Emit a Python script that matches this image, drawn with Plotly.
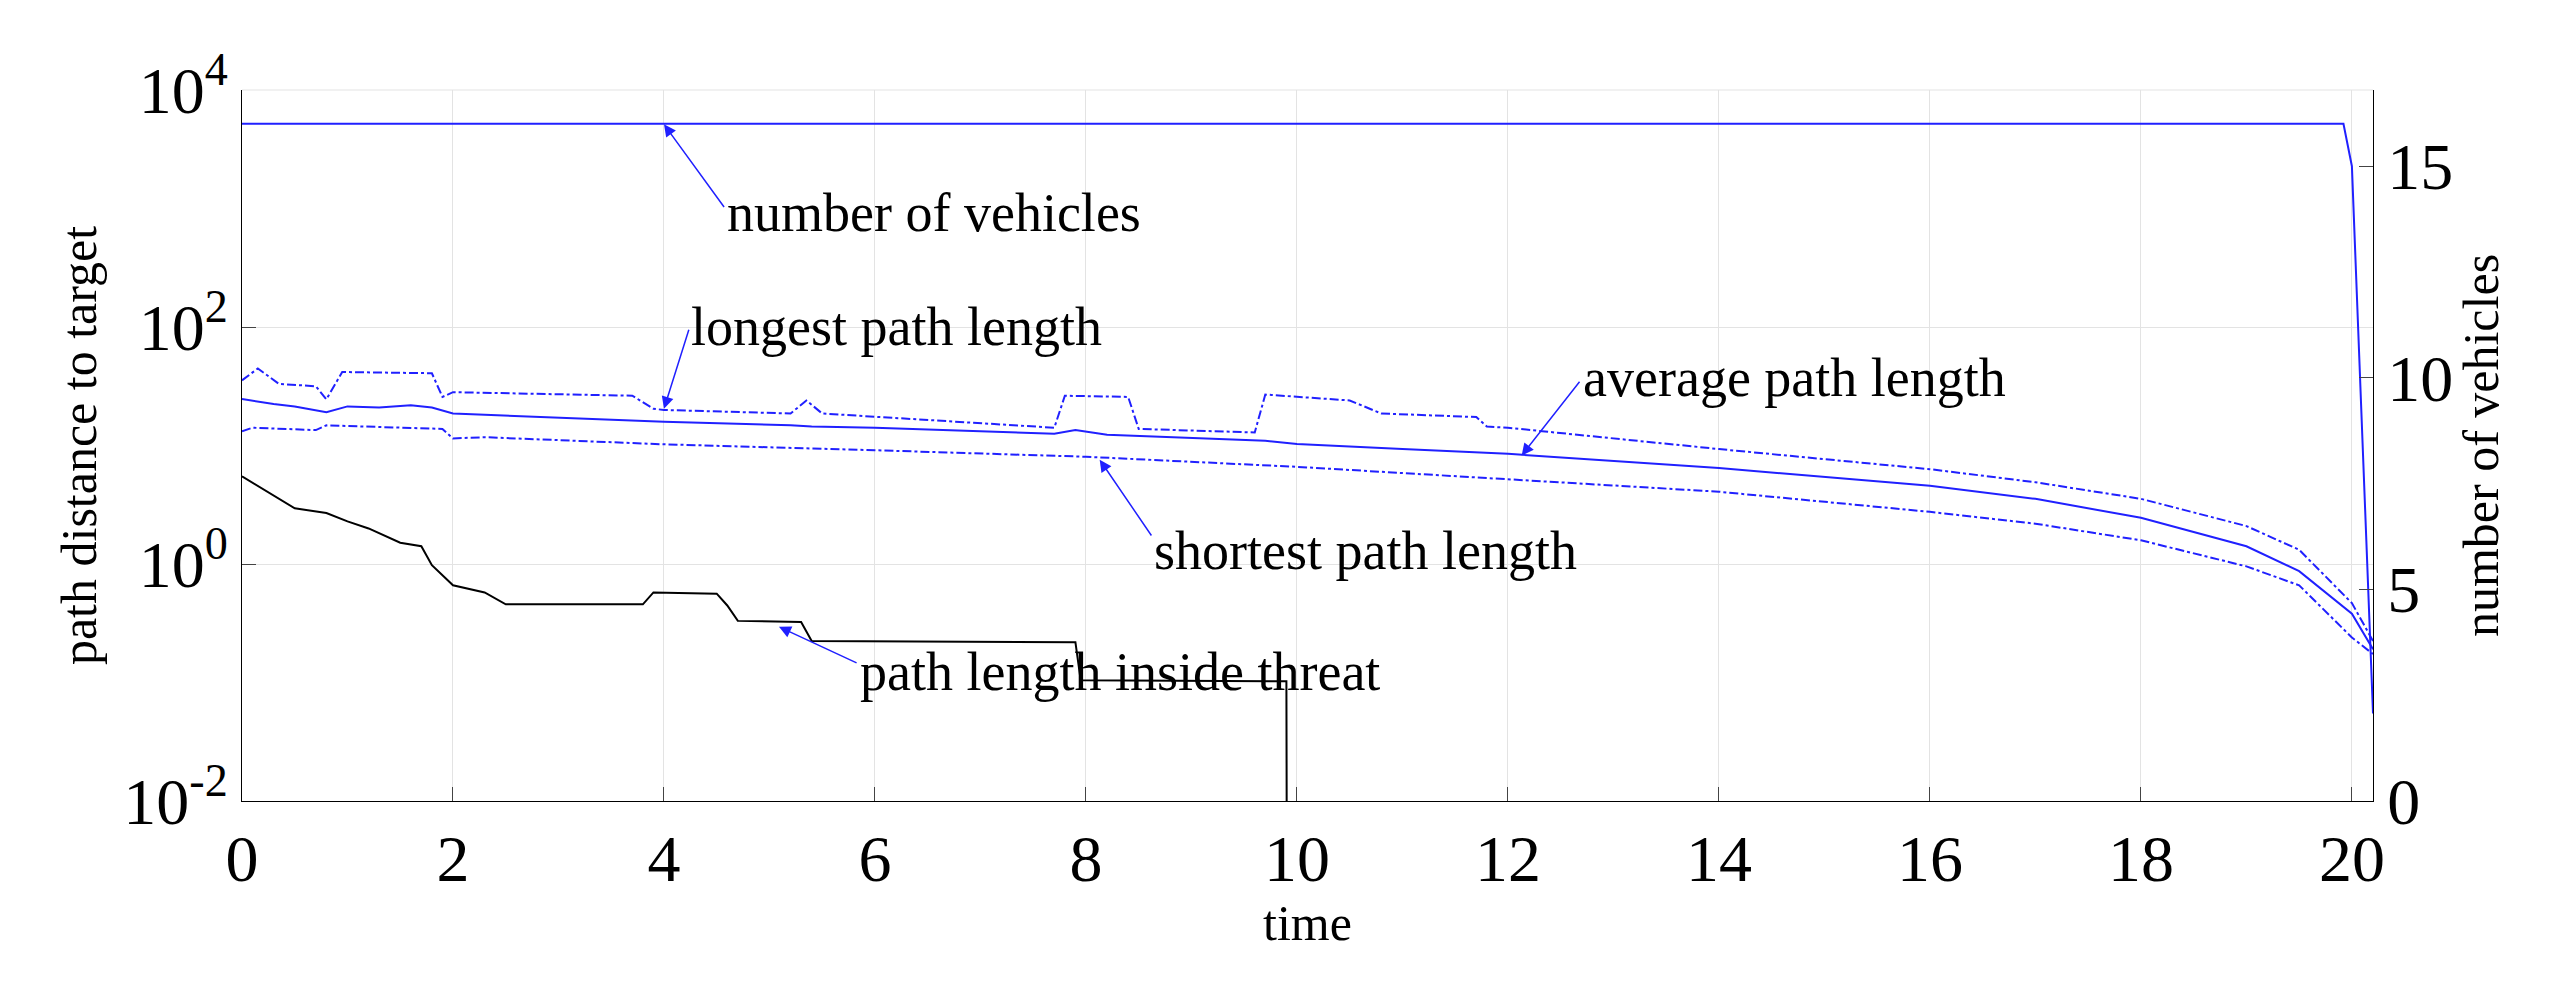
import plotly.graph_objects as go

t_avg = [0, 0.3, 0.5, 0.8, 1.0, 1.3, 1.6, 1.8, 2.0, 4.0, 5.2, 5.4, 6.0, 7.7, 7.9, 8.2, 9.7, 10.0, 11.0, 12.0, 14.0, 16.0, 17.0, 18.0, 19.0, 19.5, 20.0, 20.2]
log_avg = [1.392, 1.35, 1.33, 1.28, 1.33, 1.32, 1.34, 1.32, 1.27, 1.20, 1.17, 1.16, 1.15, 1.10, 1.13, 1.09, 1.04, 1.013, 0.97, 0.93, 0.81, 0.66, 0.55, 0.39, 0.15, -0.06, -0.42, -0.72]

t_long = [0, 0.15, 0.35, 0.7, 0.8, 0.95, 1.8, 1.9, 2.0, 3.7, 3.9, 4.0, 5.2, 5.35, 5.5, 7.7, 7.8, 8.4, 8.5, 9.6, 9.7, 10.0, 10.5, 10.8, 11.7, 11.8, 12.0, 14.0, 16.0, 17.0, 18.0, 19.0, 19.5, 20.0, 20.2]
log_long = [1.55, 1.65, 1.52, 1.50, 1.39, 1.62, 1.61, 1.41, 1.45, 1.42, 1.31, 1.30, 1.27, 1.38, 1.27, 1.15, 1.42, 1.41, 1.14, 1.11, 1.43, 1.41, 1.38, 1.27, 1.24, 1.16, 1.15, 0.97, 0.80, 0.69, 0.55, 0.32, 0.12, -0.33, -0.65]

t_short = [0, 0.1, 0.7, 0.8, 1.9, 2.0, 2.3, 4.0, 6.0, 8.0, 10.0, 12.0, 14.0, 16.0, 17.0, 18.0, 19.0, 19.5, 20.0, 20.2]
log_short = [1.12, 1.15, 1.13, 1.17, 1.14, 1.06, 1.07, 1.01, 0.96, 0.905, 0.82, 0.715, 0.61, 0.44, 0.34, 0.20, -0.02, -0.18, -0.62, -0.76]

t_threat = [0, 0.3, 0.5, 0.8, 1.0, 1.2, 1.5, 1.7, 1.8, 2.0, 2.3, 2.5, 3.8, 3.9, 4.5, 4.6, 4.7, 5.3, 5.4, 7.9, 7.95, 9.9, 9.91]
log_threat = [0.74, 0.58, 0.47, 0.43, 0.36, 0.30, 0.18, 0.15, -0.01, -0.18, -0.24, -0.34, -0.34, -0.24, -0.25, -0.35, -0.48, -0.49, -0.65, -0.66, -0.98, -0.99, -5]

t_veh = [0, 19.92, 20.0, 20.2]
n_veh = [16, 16, 15, 2.07]

blue = "#2020ff"
fig = go.Figure()
def tr(t, lg, dash, color, name):
    fig.add_trace(go.Scatter(x=t, y=[10**v for v in lg], mode="lines", name=name,
                             line=dict(color=color, width=2, dash=dash)))
tr(t_long, log_long, "dashdot", blue, "longest")
tr(t_avg, log_avg, "solid", blue, "average")
tr(t_short, log_short, "dashdot", blue, "shortest")
tr(t_threat, log_threat, "solid", "black", "threat")
fig.add_trace(go.Scatter(x=t_veh, y=n_veh, yaxis="y2", mode="lines",
                         line=dict(color=blue, width=2)))

font = "Liberation Serif"
ann = [
    (4.0, 3.71, 4.58, 3.0, "number of vehicles"),
    (4.0, 1.31, 4.24, 1.99, "longest path length"),
    (12.13, 0.915, 12.69, 1.55, "average path length"),
    (8.13, 0.88, 8.63, 0.228, "shortest path length"),
    (5.09, -0.53, 5.84, -0.84, "path length inside threat"),
]
text_y = [2.96, 2.0, 1.57, 0.11, -0.91]
annotations = []
for (hx, hy, tx, ty, txt), yy in zip(ann, text_y):
    annotations.append(dict(x=hx, y=hy, ax=tx, ay=ty, xref="x", yref="y", axref="x", ayref="y",
                            text="", showarrow=True, arrowhead=2, arrowsize=1.6, arrowwidth=1.5,
                            arrowcolor=blue))
    annotations.append(dict(x=tx, y=yy, xref="x", yref="y", text=txt, showarrow=False,
                            xanchor="left", yanchor="middle", font=dict(family=font, size=54, color="black")))

fig.update_layout(
    width=2562, height=1000, showlegend=False, plot_bgcolor="white", paper_bgcolor="white",
    margin=dict(l=234, r=197, t=82, b=207),
    font=dict(family=font, color="black"),
    annotations=annotations,
    xaxis=dict(range=[0, 20.2], tickvals=list(range(0, 21, 2)), showgrid=True, gridcolor="#e3e3e3",
               ticks="inside", ticklen=14, tickfont=dict(size=66), showline=True, linecolor="black",
               zeroline=False, title=dict(text="time", font=dict(size=50), standoff=10)),
    yaxis=dict(type="log", range=[-2, 4], tickvals=[0.01, 1, 100, 10000],
               ticktext=["10<sup>-2</sup>", "10<sup>0</sup>", "10<sup>2</sup>", "10<sup>4</sup>"],
               showgrid=True, gridcolor="#e3e3e3", ticks="inside", ticklen=14, tickfont=dict(size=66),
               showline=True, linecolor="black", zeroline=False,
               title=dict(text="path distance to target", font=dict(size=50), standoff=10)),
    yaxis2=dict(overlaying="y", side="right", range=[0, 16.8], tickvals=[0, 5, 10, 15], showgrid=False,
                ticks="inside", ticklen=14, tickfont=dict(size=66), showline=True, linecolor="black",
                zeroline=False, title=dict(text="number of vehicles", font=dict(size=50), standoff=10)),
)
fig.add_shape(type="line", xref="paper", yref="paper", x0=0, x1=1, y0=1, y1=1,
              line=dict(color="#e3e3e3", width=1))
fig.write_html("out.html")
